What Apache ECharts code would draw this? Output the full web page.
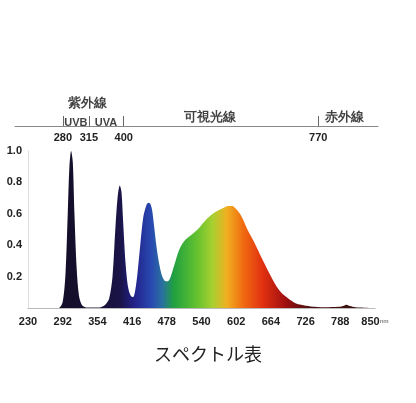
<!DOCTYPE html><html><head><meta charset="utf-8"><script src="https://cdn.jsdelivr.net/npm/echarts@6/dist/echarts.min.js"></script></head><body style="margin:0;background:#fff"><div id="c" style="width:416px;height:403px"></div><script>
const wavelengths=[230,280,285,292,297,301,304,307,310,313,317,321,326,332,340,350,360,368,375,381,386,390,394,397,400,404,408,412,416,418,421,425,430,436,442,446,449,452,456,460,465,470,476,480,485,492,500,510,520,533,545,560,575,588,595,602,612,622,634,646,660,672,682,695,708,718,735,760,785,795,799,805,815,830,850];
const intensity=[0,0,0,0.04,0.22,0.6,0.9,1.0,0.93,0.6,0.25,0.08,0.02,0.005,0.003,0.003,0.005,0.02,0.06,0.2,0.5,0.7,0.78,0.74,0.55,0.3,0.15,0.09,0.07,0.07,0.1,0.2,0.38,0.58,0.66,0.67,0.66,0.62,0.5,0.38,0.27,0.2,0.17,0.17,0.2,0.28,0.37,0.43,0.46,0.5,0.55,0.6,0.63,0.65,0.65,0.63,0.58,0.5,0.42,0.33,0.23,0.15,0.1,0.06,0.03,0.02,0.01,0.005,0.008,0.015,0.02,0.012,0.004,0.002,0];
const xTicks={min:230,max:850,interval:62};
const yTicks={min:0,max:1,interval:0.2};
const topTickLabels=['280','315','400','770'];
const topTickAt=[280,330,397,771];
const regions=[{name:'紫外線',x:328,y:0.75,size:13},{name:'UVB',x:305,y:0.1,size:11},{name:'UVA',x:363,y:0.1,size:11},{name:'可視光線',x:563,y:0.3,size:13},{name:'赤外線',x:821,y:0.3,size:13}];
const stops=[[230,'#140c20'],[340,'#161030'],[395,'#1a1448'],[420,'#22228a'],[450,'#2848b0'],[470,'#2a70a0'],[490,'#20a040'],[530,'#60c030'],[560,'#a8d030'],[585,'#f0b020'],[615,'#f06a10'],[650,'#e03010'],[690,'#a01010'],[730,'#501010'],[850,'#301010']];
const chart=echarts.init(document.getElementById('c'));
chart.setOption({
 animation:false,
 title:{text:'スペクトル表',left:'center',top:340,textStyle:{fontSize:18,fontWeight:'normal',color:'#222',fontFamily:'Noto Sans CJK JP'}},
 grid:[{left:28,right:41,top:151,bottom:95},{left:15,right:38,top:96,height:30}],
 xAxis:[{type:'value',gridIndex:0,min:xTicks.min,max:xTicks.max,interval:xTicks.interval,splitLine:{show:false},axisLine:{lineStyle:{color:'#bbb'}},axisTick:{show:false},axisLabel:{color:'#222',fontWeight:'bold',fontSize:11,margin:8,formatter:v=>v===850?'850{u|nm}':String(v),rich:{u:{fontSize:6,color:'#888'}}}},
 {type:'value',gridIndex:1,min:188,max:886,position:'bottom',splitLine:{show:false},axisLine:{lineStyle:{color:'#888'}},axisTick:{inside:true,length:10,lineStyle:{color:'#666'},customValues:topTickAt},axisLabel:{color:'#222',fontSize:11,fontWeight:'bold',margin:6,customValues:topTickAt,formatter:v=>{const i=topTickAt.indexOf(Math.round(v));return i>=0?topTickLabels[i]:'';}}}],
 yAxis:[{type:'value',gridIndex:0,min:yTicks.min,max:yTicks.max,interval:yTicks.interval,splitLine:{show:false},axisLine:{show:true,lineStyle:{color:'#ddd'}},axisTick:{show:false},axisLabel:{color:'#222',fontWeight:'bold',fontSize:11,margin:6,formatter:v=>v===0?'':v.toFixed(1)}},
 {type:'value',gridIndex:1,min:0,max:1,show:false}],
 series:[{type:'line',xAxisIndex:0,yAxisIndex:0,data:wavelengths.map((w,i)=>[w,intensity[i]]),symbol:'none',smooth:0.3,lineStyle:{width:0},
  areaStyle:{opacity:1,color:{type:'linear',x:0,y:0,x2:1,y2:0,colorStops:stops.map(s=>({offset:(s[0]-230)/620,color:s[1]}))}}},
 {type:'line',xAxisIndex:0,yAxisIndex:0,data:[[860,0],[860,0.9]],symbol:'none',lineStyle:{color:'#f6c8b8',width:2},clip:false},
 {type:'scatter',xAxisIndex:1,yAxisIndex:1,symbolSize:0,data:regions.map(r=>({value:[r.x,r.y],label:{formatter:r.name,fontSize:r.size}})),label:{show:true,position:'inside',color:'#111',fontWeight:'bold'}}]
});
</script></body></html>
